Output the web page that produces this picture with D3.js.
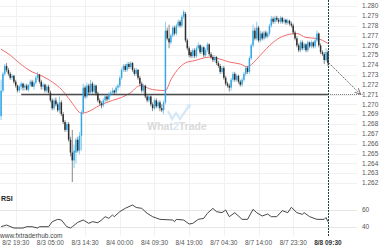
<!DOCTYPE html>
<html>
<head>
<meta charset="utf-8">
<script src="https://cdn.jsdelivr.net/npm/d3@7"></script>
<style>
  body { margin: 0; background: #fff; }
  svg { display: block; font-family: "Liberation Sans", Arial, sans-serif; }
</style>
</head>
<body>
<svg id="chart" width="380" height="250"></svg>
<script>
// 30 min candles, [open, high, low, close]
var candles = [
  [1.2688,1.2725,1.2684,1.2714],[1.2714,1.2733,1.2712,1.2731],[1.2731,1.2741,1.2729,1.2739],[1.2739,1.2742,1.2733,1.2735],
  [1.2735,1.2737,1.2729,1.2731],[1.2731,1.2733,1.2725,1.2727],[1.2727,1.2731,1.2725,1.2729],[1.2729,1.2730,1.2721,1.2723],
  [1.2723,1.2725,1.2717,1.2719],[1.2719,1.2720,1.2712,1.2714],[1.2714,1.2720,1.2712,1.2718],[1.2718,1.2723,1.2715,1.2721],
  [1.2721,1.2722,1.2714,1.2717],[1.2717,1.2721,1.2714,1.2719],[1.2719,1.2721,1.2714,1.2715],[1.2715,1.2720,1.2713,1.2720],
  [1.2720,1.2725,1.2718,1.2723],[1.2723,1.2725,1.2718,1.2718],[1.2718,1.2724,1.2715,1.2722],[1.2722,1.2729,1.2720,1.2727],
  [1.2727,1.2733,1.2725,1.2730],[1.2730,1.2731,1.2721,1.2723],[1.2723,1.2725,1.2715,1.2718],[1.2718,1.2722,1.2715,1.2720],
  [1.2720,1.2721,1.2712,1.2714],[1.2714,1.2720,1.2712,1.2718],[1.2718,1.2720,1.2711,1.2712],[1.2712,1.2714,1.2702,1.2704],
  [1.2704,1.2706,1.2694,1.2696],[1.2696,1.2706,1.2694,1.2704],[1.2704,1.2707,1.2698,1.2700],[1.2700,1.2702,1.2692,1.2694],
  [1.2694,1.2708,1.2691,1.2702],[1.2702,1.2704,1.2688,1.2690],[1.2690,1.2692,1.2680,1.2682],[1.2682,1.2684,1.2672,1.2674],
  [1.2674,1.2682,1.2672,1.2680],[1.2680,1.2682,1.2662,1.2664],[1.2664,1.2667,1.2647,1.2651],[1.2651,1.2674,1.2621,1.2643],
  [1.2643,1.2659,1.2635,1.2653],[1.2651,1.2666,1.2640,1.2664],[1.2664,1.2667,1.2651,1.2653],[1.2653,1.2672,1.2649,1.2668],
  [1.2668,1.2694,1.2653,1.2692],[1.2692,1.2721,1.2690,1.2717],[1.2717,1.2719,1.2706,1.2708],[1.2708,1.2722,1.2706,1.2719],
  [1.2719,1.2721,1.2710,1.2712],[1.2712,1.2725,1.2710,1.2721],[1.2721,1.2723,1.2711,1.2713],[1.2713,1.2721,1.2711,1.2719],
  [1.2719,1.2720,1.2709,1.2711],[1.2711,1.2713,1.2702,1.2704],[1.2704,1.2706,1.2699,1.2701],[1.2701,1.2703,1.2696,1.2699],
  [1.2699,1.2706,1.2697,1.2704],[1.2704,1.2710,1.2702,1.2708],[1.2708,1.2709,1.2703,1.2705],[1.2705,1.2712,1.2704,1.2710],
  [1.2710,1.2714,1.2708,1.2712],[1.2712,1.2717,1.2710,1.2714],[1.2714,1.2715,1.2710,1.2712],[1.2712,1.2719,1.2711,1.2717],
  [1.2717,1.2721,1.2714,1.2719],[1.2719,1.2729,1.2717,1.2727],[1.2727,1.2737,1.2725,1.2735],[1.2735,1.2741,1.2733,1.2739],
  [1.2739,1.2741,1.2733,1.2735],[1.2735,1.2743,1.2733,1.2741],[1.2741,1.2743,1.2736,1.2738],[1.2738,1.2744,1.2736,1.2742],
  [1.2742,1.2743,1.2733,1.2735],[1.2735,1.2737,1.2729,1.2731],[1.2731,1.2737,1.2729,1.2735],[1.2735,1.2736,1.2725,1.2727],
  [1.2727,1.2729,1.2719,1.2721],[1.2721,1.2723,1.2712,1.2714],[1.2714,1.2721,1.2712,1.2719],[1.2719,1.2720,1.2706,1.2708],
  [1.2708,1.2710,1.2702,1.2704],[1.2704,1.2710,1.2702,1.2708],[1.2708,1.2709,1.2698,1.2700],[1.2700,1.2702,1.2693,1.2696],
  [1.2696,1.2706,1.2694,1.2704],[1.2704,1.2706,1.2696,1.2698],[1.2698,1.2704,1.2696,1.2702],[1.2702,1.2704,1.2693,1.2696],
  [1.2696,1.2700,1.2692,1.2694],[1.2694,1.2704,1.2690,1.2702],[1.2702,1.2784,1.2700,1.2775],[1.2775,1.2778,1.2765,1.2767],
  [1.2767,1.2781,1.2757,1.2763],[1.2763,1.2772,1.2761,1.2770],[1.2770,1.2780,1.2768,1.2778],[1.2778,1.2780,1.2770,1.2772],
  [1.2772,1.2782,1.2770,1.2780],[1.2780,1.2786,1.2778,1.2784],[1.2784,1.2786,1.2778,1.2780],[1.2780,1.2791,1.2778,1.2789],
  [1.2789,1.2796,1.2787,1.2794],[1.2792,1.2794,1.2763,1.2765],[1.2765,1.2767,1.2755,1.2757],[1.2757,1.2759,1.2748,1.2750],
  [1.2753,1.2755,1.2747,1.2749],[1.2749,1.2757,1.2747,1.2755],[1.2755,1.2757,1.2747,1.2749],[1.2749,1.2759,1.2747,1.2757],
  [1.2757,1.2763,1.2755,1.2760],[1.2760,1.2761,1.2751,1.2753],[1.2753,1.2760,1.2751,1.2758],[1.2758,1.2759,1.2748,1.2750],
  [1.2750,1.2757,1.2748,1.2755],[1.2755,1.2763,1.2753,1.2761],[1.2761,1.2762,1.2749,1.2751],[1.2751,1.2753,1.2746,1.2748],
  [1.2748,1.2750,1.2743,1.2745],[1.2745,1.2750,1.2743,1.2748],[1.2748,1.2749,1.2740,1.2742],[1.2742,1.2744,1.2737,1.2739],
  [1.2739,1.2741,1.2731,1.2733],[1.2733,1.2739,1.2731,1.2737],[1.2737,1.2739,1.2725,1.2727],[1.2727,1.2729,1.2719,1.2721],
  [1.2721,1.2723,1.2717,1.2719],[1.2719,1.2721,1.2713,1.2717],[1.2717,1.2727,1.2714,1.2725],[1.2725,1.2733,1.2723,1.2731],
  [1.2731,1.2733,1.2723,1.2725],[1.2725,1.2731,1.2723,1.2729],[1.2729,1.2730,1.2721,1.2723],[1.2723,1.2725,1.2718,1.2720],
  [1.2720,1.2727,1.2718,1.2725],[1.2725,1.2733,1.2723,1.2731],[1.2731,1.2739,1.2729,1.2737],[1.2737,1.2739,1.2731,1.2733],
  [1.2733,1.2749,1.2731,1.2747],[1.2747,1.2762,1.2745,1.2760],[1.2760,1.2781,1.2758,1.2775],[1.2775,1.2778,1.2765,1.2767],
  [1.2767,1.2784,1.2765,1.2778],[1.2778,1.2780,1.2763,1.2765],[1.2765,1.2775,1.2763,1.2772],[1.2772,1.2774,1.2765,1.2767],
  [1.2767,1.2775,1.2765,1.2773],[1.2773,1.2775,1.2767,1.2769],[1.2769,1.2774,1.2767,1.2772],[1.2772,1.2782,1.2770,1.2780],
  [1.2780,1.2790,1.2778,1.2787],[1.2787,1.2789,1.2782,1.2784],[1.2784,1.2790,1.2782,1.2788],[1.2788,1.2790,1.2784,1.2786],
  [1.2786,1.2788,1.2782,1.2784],[1.2784,1.2790,1.2782,1.2788],[1.2788,1.2789,1.2782,1.2784],[1.2784,1.2788,1.2782,1.2786],
  [1.2786,1.2787,1.2781,1.2783],[1.2783,1.2787,1.2781,1.2785],[1.2785,1.2786,1.2780,1.2782],[1.2782,1.2784,1.2778,1.2780],
  [1.2780,1.2782,1.2771,1.2773],[1.2773,1.2775,1.2765,1.2767],[1.2767,1.2769,1.2758,1.2760],[1.2760,1.2762,1.2753,1.2755],
  [1.2755,1.2765,1.2753,1.2763],[1.2763,1.2765,1.2755,1.2757],[1.2757,1.2763,1.2755,1.2761],[1.2761,1.2762,1.2753,1.2755],
  [1.2755,1.2765,1.2753,1.2763],[1.2763,1.2764,1.2757,1.2759],[1.2759,1.2765,1.2757,1.2763],[1.2763,1.2764,1.2757,1.2759],
  [1.2759,1.2767,1.2757,1.2765],[1.2765,1.2775,1.2763,1.2772],[1.2772,1.2773,1.2758,1.2760],[1.2760,1.2762,1.2751,1.2753],
  [1.2753,1.2755,1.2749,1.2751],[1.2751,1.2753,1.2741,1.2745],[1.2745,1.2757,1.2743,1.2753],[1.2753,1.2755,1.2739,1.2742]
];

// moving average, read at a few bars
var maIdx = [0,5,10,17,21,27,32,35,39,44,47,54,61,66,71,76,83,90,93,98,102,105,114,120,125,131,135,138,142,149,154,162,167,173,179];
var maVal = [1.2756,1.2750,1.2742,1.2733,1.2730,1.2724,1.2717,1.2711,1.2701,1.2691,1.2692,1.2699,1.2704,1.2707,1.2712,1.2719,1.2715,1.2714,1.2725,1.2738,1.2743,1.2744,1.2748,1.2746,1.2743,1.2741,1.2738,1.2742,1.2750,1.2763,1.2769,1.2772,1.2768,1.2767,1.2762];

// RSI, read at a few bars
var rsiIdx = [0,3,7,12,14,17,20,21,26,28,31,33,36,38,39,42,45,48,50,53,55,57,59,61,62,65,68,72,74,77,80,83,87,94,95,96,100,103,105,108,111,113,116,118,121,123,125,128,132,135,138,140,143,146,148,151,154,157,159,162,165,166,169,173,177,178,179];
var rsiVal = [40,42,38.4,38.4,40,40,38.4,40,40,46,48.8,48,40,38.4,40,45.2,48,44,46,44.8,48,52,50,54,52,58,62,66,63,62,56,52,48.8,48,46,48.8,48,43.2,44,48.8,50,56,62,58,56.8,60,52,56.8,48.8,48.8,60.8,56.8,52.8,55.2,52,52,59.2,56.8,63.2,56.8,54.8,56.8,52,48.8,48.8,51,46];

var priceTicks = [1.280,1.279,1.278,1.277,1.276,1.275,1.274,1.273,1.272,1.271,1.270,1.269,1.268,1.267,1.266,1.265,1.264,1.263,1.262];
var rsiTicks = [60, 40];
var timeIdx = [8,27,46,65,84,103,122,141,160,179];
var timeLabels = ["8/2 19:30","8/3 05:00","8/3 14:30","8/4 00:00","8/4 09:30","8/4 19:00","8/7 04:30","8/7 14:00","8/7 23:30","8/8 09:30"];

var supportLevel = 1.271, supportFrom = 11, targetIdx = 197;

var svg = d3.select('#chart');
var x = d3.scaleLinear().domain([0, 179]).range([1.1, 327.9]);
var y = d3.scaleLinear().domain([1.262, 1.280]).range([183, 6]);
var yr = d3.scaleLinear().domain([40, 60]).range([226.7, 210]);
var gridRight = 357;

// grid
svg.append('g').selectAll('line').data(priceTicks).enter().append('line')
  .attr('x1', 0).attr('x2', gridRight)
  .attr('y1', function(d) { return Math.round(y(d)) + 0.5; })
  .attr('y2', function(d) { return Math.round(y(d)) + 0.5; })
  .attr('stroke', '#f1f1f1');
svg.append('g').selectAll('line').data(timeIdx.slice(0, -1)).enter().append('line')
  .attr('x1', function(d) { return Math.round(x(d)) + 0.5; })
  .attr('x2', function(d) { return Math.round(x(d)) + 0.5; })
  .attr('y1', 0).attr('y2', 236)
  .attr('stroke', '#f1f1f1');
svg.append('g').selectAll('line').data(rsiTicks).enter().append('line')
  .attr('x1', 0).attr('x2', gridRight)
  .attr('y1', function(d) { return Math.round(yr(d)) + 0.5; })
  .attr('y2', function(d) { return Math.round(yr(d)) + 0.5; })
  .attr('stroke', '#e6e6e6');

// watermark
var wm = svg.append('g').attr('opacity', 0.9);
wm.append('path')
  .attr('d', 'M168,111 L172,119 L176,113 L180,119 L184,113 L189,106')
  .attr('fill', 'none').attr('stroke', '#cfe6f6').attr('stroke-width', 2.2);
wm.append('path').attr('d', 'M186,105 L191,104 L190,109 Z').attr('fill', '#cfe6f6');
var wt = wm.append('text').attr('x', 177).attr('y', 130)
  .attr('text-anchor', 'middle').attr('font-size', 10.5).attr('font-weight', 'bold')
  .attr('fill', '#d6d6d6');
wt.append('tspan').text('What');
wt.append('tspan').attr('fill', '#cfe6f6').text('2');
wt.append('tspan').text('Trade');

// moving average
var ma = maIdx.map(function(d, i) { return [d, maVal[i]]; });
svg.append('path').datum(ma)
  .attr('d', d3.line().x(function(d) { return x(d[0]); }).y(function(d) { return y(d[1]); }).curve(d3.curveMonotoneX))
  .attr('fill', 'none').attr('stroke', '#f26b6b').attr('stroke-width', 1);

// support line
svg.append('line')
  .attr('x1', x(supportFrom)).attr('x2', x(179))
  .attr('y1', y(supportLevel)).attr('y2', y(supportLevel))
  .attr('stroke', '#4a4a4a').attr('stroke-width', 1.4);
svg.append('line')
  .attr('x1', x(179)).attr('x2', x(targetIdx + 1))
  .attr('y1', y(supportLevel)).attr('y2', y(supportLevel))
  .attr('stroke', '#777').attr('stroke-width', 1).attr('stroke-dasharray', '1,1');

// candles
var up = '#33a7e6', down = '#2e2e2e', bw = 1.5;
var g = svg.append('g');
g.selectAll('line').data(candles).enter().append('line')
  .attr('x1', function(d, i) { return x(i); })
  .attr('x2', function(d, i) { return x(i); })
  .attr('y1', function(d) { return y(d[1]); })
  .attr('y2', function(d) { return y(d[2]); })
  .attr('stroke', function(d) { return d[3] >= d[0] ? up : down; })
  .attr('stroke-width', 0.7)
  .attr('opacity', 0.8);
g.selectAll('rect').data(candles).enter().append('rect')
  .attr('x', function(d, i) { return x(i) - bw / 2; })
  .attr('width', bw)
  .attr('y', function(d) { return y(Math.max(d[0], d[3])); })
  .attr('height', function(d) { return Math.max(0.8, Math.abs(y(d[0]) - y(d[3]))); })
  .attr('fill', function(d) { return d[3] >= d[0] ? up : down; });

// current bar marker
var mx = Math.round(x(179)) + 0.5;
svg.append('line')
  .attr('x1', mx).attr('x2', mx)
  .attr('y1', 0).attr('y2', 237)
  .attr('stroke', '#1f3f4a').attr('stroke-width', 1).attr('stroke-dasharray', '2,1');

// projected move
var last = candles[candles.length - 1];
svg.append('defs').append('marker')
  .attr('id', 'ah').attr('viewBox', '0 0 10 10').attr('refX', 9).attr('refY', 5)
  .attr('markerWidth', 7).attr('markerHeight', 7).attr('orient', 'auto')
  .append('path').attr('d', 'M0,1 L9,5 L0,9').attr('fill', 'none').attr('stroke', '#666').attr('stroke-width', 1.2);
svg.append('line')
  .attr('x1', x(179) + 1).attr('y1', y(last[3]))
  .attr('x2', x(targetIdx)).attr('y2', y(supportLevel))
  .attr('stroke', '#666').attr('stroke-width', 1).attr('stroke-dasharray', '1.5,1')
  .attr('marker-end', 'url(#ah)');

// RSI
var rsi = rsiIdx.map(function(d, i) { return [d, rsiVal[i]]; });
svg.append('path').datum(rsi)
  .attr('d', d3.line().x(function(d) { return x(d[0]); }).y(function(d) { return yr(d[1]); }))
  .attr('fill', 'none').attr('stroke', '#333').attr('stroke-width', 0.9);

// axes text
svg.append('g').selectAll('text').data(priceTicks).enter().append('text')
  .attr('x', 362).attr('y', function(d) { return y(d); })
  .attr('dy', '0.35em').attr('font-size', 6.5).attr('fill', '#555')
  .text(function(d) { return d3.format('.3f')(d); });
svg.append('g').selectAll('text').data(rsiTicks).enter().append('text')
  .attr('x', 362).attr('y', function(d) { return yr(d); })
  .attr('dy', '0.35em').attr('font-size', 6.5).attr('fill', '#555')
  .text(function(d) { return d; });
svg.append('g').selectAll('text').data(timeIdx).enter().append('text')
  .attr('x', function(d) { return x(d); }).attr('y', 244.5)
  .attr('text-anchor', 'middle').attr('font-size', 6.5)
  .attr('font-weight', function(d, i) { return i === timeIdx.length - 1 ? 'bold' : 'normal'; })
  .attr('fill', function(d, i) { return i === timeIdx.length - 1 ? '#333' : '#555'; })
  .text(function(d, i) { return timeLabels[i]; });

svg.append('text').attr('x', 1).attr('y', 201).attr('font-size', 7).attr('font-weight', 'bold')
  .attr('fill', '#222').text('RSI');
svg.append('text').attr('x', 0).attr('y', 238).attr('font-size', 6.5).attr('fill', '#444')
  .text('www.fxtraderhub.com');
</script>
</body>
</html>
